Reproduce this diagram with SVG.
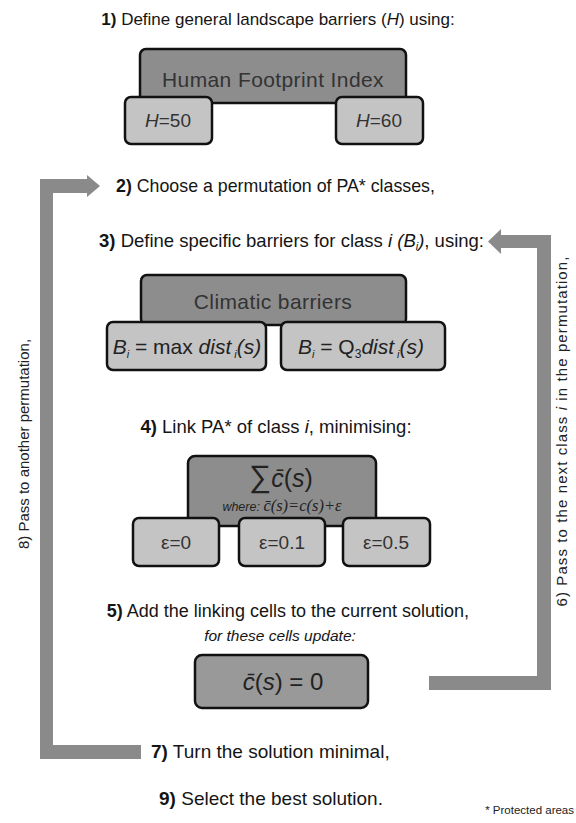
<svg xmlns="http://www.w3.org/2000/svg" width="576" height="823" viewBox="0 0 576 823">
<style>
.step{font-family:"Liberation Sans",Arial,sans-serif;font-size:18.5px;fill:#151515}
.b{font-weight:bold}
.side{font-family:"Liberation Sans",Arial,sans-serif;font-size:15px;fill:#222}
.lbl{font-family:"Liberation Sans",Arial,sans-serif;font-size:21px;fill:#333;text-anchor:middle;letter-spacing:0.4px}
.math{font-family:"Liberation Sans",Arial,sans-serif;font-size:21px;fill:#222;text-anchor:middle}
.serif{font-family:"Liberation Serif","Times New Roman",serif}
.dark{fill:#8d8d8d;stroke:#111;stroke-width:2.5}
.light{fill:#c4c4c4;stroke:#111;stroke-width:2.5}
.arrow{fill:#8a8a8a}
.it{font-style:italic}
</style>
<rect width="576" height="823" fill="#fff"/>

<g id="connectors">
  <path class="arrow" d="M40,759 V179 H87 V175 L100,186 L87,197 V193 H53 V745 H141 V759 Z"/>
  <path class="arrow" d="M429,676 H537 V248 H501 V254 L488,241.5 L501,229 V235 H551 V690 H429 Z"/>
</g>

<g id="step1">
  <text class="step" x="278" y="25" text-anchor="middle" style="font-size:17px"><tspan class="b">1)</tspan> Define general landscape barriers (<tspan class="it">H</tspan>) using:</text>
</g>
<g id="hfi">
  <rect class="dark" x="140" y="49" width="266" height="54" rx="6"/>
  <text class="lbl" x="273" y="87">Human Footprint Index</text>
</g>
<g id="h50">
  <rect class="light" x="125" y="97" width="87" height="47" rx="6"/>
  <text class="lbl" x="168" y="127" style="font-size:19px;letter-spacing:0"><tspan class="it">H</tspan>=50</text>
</g>
<g id="h60">
  <rect class="light" x="336" y="97" width="87" height="47" rx="6"/>
  <text class="lbl" x="379" y="127" style="font-size:19px;letter-spacing:0"><tspan class="it">H</tspan>=60</text>
</g>

<g id="step2">
  <text class="step" x="116" y="192" style="font-size:17.8px"><tspan class="b">2)</tspan> Choose a permutation of PA* classes,</text>
</g>
<g id="step3">
  <text class="step" x="484" y="247" text-anchor="end"><tspan class="b">3)</tspan> Define specific barriers for class <tspan class="it">i</tspan> <tspan class="it">(B<tspan font-size="11" dy="3">i</tspan><tspan dy="-3">)</tspan></tspan>, using:</text>
</g>

<g id="climatic">
  <rect class="dark" x="141" y="275" width="265" height="50" rx="6"/>
  <text class="lbl" x="273" y="309">Climatic barriers</text>
</g>
<g id="bmax">
  <rect class="light" x="107" y="322" width="159" height="48" rx="6"/>
  <text class="math" x="187" y="354"><tspan class="it">B<tspan font-size="11" dy="4">i</tspan></tspan><tspan dy="-4"> = max </tspan><tspan class="it">dist<tspan font-size="11" dy="4"> i</tspan><tspan dy="-4">(s)</tspan></tspan></text>
</g>
<g id="bq3">
  <rect class="light" x="281" y="322" width="164" height="48" rx="6"/>
  <text class="math" x="361" y="354"><tspan class="it">B<tspan font-size="11" dy="4">i</tspan></tspan><tspan dy="-4"> = Q</tspan><tspan font-size="12" dy="4">3</tspan><tspan class="it" dy="-4">dist<tspan font-size="11" dy="4"> i</tspan><tspan dy="-4">(s)</tspan></tspan></text>
</g>

<g id="step4">
  <text class="step" x="276" y="433" text-anchor="middle"><tspan class="b">4)</tspan> Link PA* of class <tspan class="it">i</tspan>, minimising:</text>
</g>
<g id="sum">
  <rect class="dark" x="188" y="456" width="188" height="70" rx="7"/>
  <text class="math" x="281" y="487" style="font-size:25px"><tspan font-size="31">∑</tspan><tspan class="it">c̄</tspan>(<tspan class="it">s</tspan>)</text>
  <text x="282" y="511" text-anchor="middle" style="font-family:'Liberation Sans',Arial,sans-serif;font-size:12.5px;font-style:italic;fill:#222">where: <tspan class="serif" font-size="16.5">c̄(s)=c(s)+ε</tspan></text>
</g>
<g id="eps0">
  <rect class="light" x="133" y="518" width="86" height="48" rx="6"/>
  <text class="lbl" x="176" y="549" style="font-size:19px;letter-spacing:0">ε=0</text>
</g>
<g id="eps01">
  <rect class="light" x="239" y="518" width="86" height="48" rx="6"/>
  <text class="lbl" x="282" y="549" style="font-size:19px;letter-spacing:0">ε=0.1</text>
</g>
<g id="eps05">
  <rect class="light" x="343" y="518" width="87" height="48" rx="6"/>
  <text class="lbl" x="386" y="549" style="font-size:19px;letter-spacing:0">ε=0.5</text>
</g>

<g id="step5">
  <text class="step" x="469" y="617" text-anchor="end" style="font-size:18px"><tspan class="b">5)</tspan> Add the linking cells to the current solution,</text>
  <text class="step it" x="280" y="641" text-anchor="middle" style="font-size:15.5px">for these cells update:</text>
</g>
<g id="czero">
  <rect x="195" y="655" width="173" height="53" rx="7" fill="#999" stroke="#111" stroke-width="2.5"/>
  <text class="math" x="283" y="690" style="font-size:24px"><tspan class="it">c̄</tspan>(<tspan class="it">s</tspan>) = 0</text>
</g>

<g id="step6">
  <text class="side" transform="translate(567,431) rotate(-90)" text-anchor="middle" style="letter-spacing:1.1px">6) Pass to the next class <tspan class="it">i</tspan> in the permutation,</text>
</g>
<g id="step7">
  <text class="step" x="151" y="758" style="font-size:19px"><tspan class="b">7)</tspan> Turn the solution minimal,</text>
</g>
<g id="step8">
  <text class="side" transform="translate(29,444) rotate(-90)" text-anchor="middle">8) Pass to another permutation,</text>
</g>
<g id="step9">
  <text class="step" x="271" y="805" text-anchor="middle" style="font-size:19px"><tspan class="b">9)</tspan> Select the best solution.</text>
</g>
<g id="footnote">
  <text x="574" y="814" text-anchor="end" style="font-family:'Liberation Sans',Arial,sans-serif;font-size:11.5px;fill:#222">* Protected areas</text>
</g>
</svg>
